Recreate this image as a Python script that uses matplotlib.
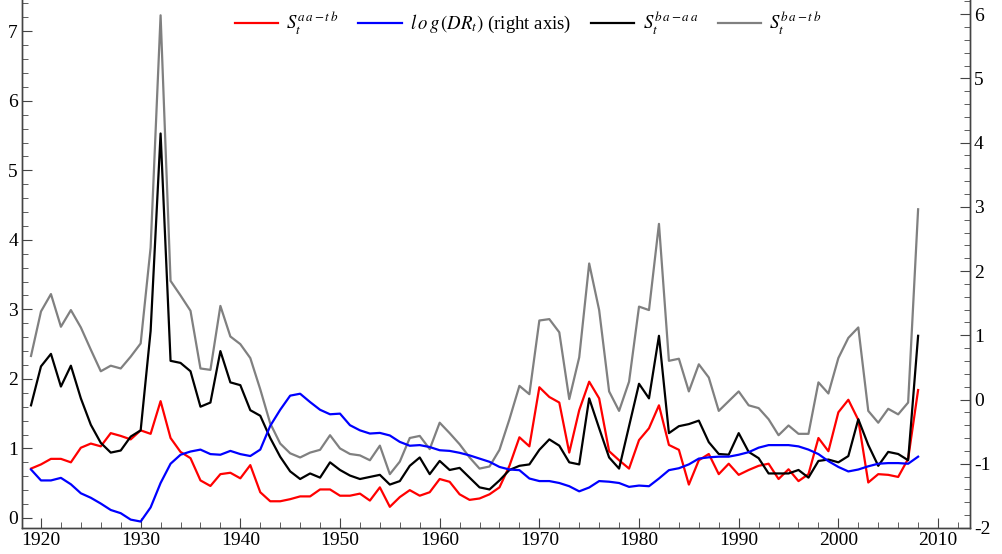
import numpy as np
import matplotlib
matplotlib.use("Agg")
import matplotlib.pyplot as plt
from matplotlib.ticker import MultipleLocator

plt.rcParams['font.family'] = ['Liberation Serif', 'DejaVu Serif']
plt.rcParams['mathtext.fontset'] = 'stix'
plt.rcParams['axes.unicode_minus'] = False

years = np.arange(1919, 2009)

# S_t^{aa-tb}
s_aa_tb = [0.71, 0.77, 0.85, 0.85, 0.80, 1.01, 1.07, 1.03, 1.22, 1.18, 1.13,
           1.26, 1.21, 1.68, 1.15, 0.95, 0.86, 0.54, 0.46, 0.63, 0.65,
           0.57, 0.76, 0.37, 0.24, 0.24, 0.27, 0.31, 0.31, 0.41, 0.41,
           0.32, 0.32, 0.35, 0.25, 0.44, 0.16, 0.30, 0.40, 0.32, 0.37,
           0.56, 0.52, 0.34, 0.26, 0.28, 0.34, 0.44, 0.75, 1.16, 1.03,
           1.88, 1.74, 1.66, 0.94, 1.55, 1.96, 1.72, 0.96, 0.83, 0.71,
           1.12, 1.29, 1.62, 1.05, 0.98, 0.48, 0.83, 0.92, 0.63, 0.78,
           0.62, 0.69, 0.75, 0.78, 0.56, 0.70, 0.53, 0.63, 1.15, 0.96,
           1.52, 1.70, 1.41, 0.51, 0.63, 0.62, 0.59, 0.85, 1.84]

# log(DR_t), right axis
log_dr = [-1.09, -1.26, -1.26, -1.22, -1.32, -1.46, -1.53, -1.62, -1.72, -1.77, -1.87,
          -1.90, -1.68, -1.30, -1.00, -0.86, -0.81, -0.78, -0.85, -0.86, -0.80,
          -0.85, -0.88, -0.78, -0.41, -0.16, 0.06, 0.09, -0.04, -0.16, -0.23,
          -0.22, -0.40, -0.48, -0.53, -0.52, -0.56, -0.66, -0.72, -0.71, -0.74,
          -0.79, -0.80, -0.83, -0.87, -0.92, -0.97, -1.05, -1.09, -1.10, -1.23,
          -1.27, -1.27, -1.30, -1.35, -1.43, -1.37, -1.27, -1.28, -1.30, -1.36,
          -1.34, -1.35, -1.23, -1.10, -1.07, -1.01, -0.92, -0.90, -0.89, -0.89,
          -0.86, -0.82, -0.75, -0.71, -0.71, -0.71, -0.73, -0.78, -0.85, -0.96,
          -1.05, -1.12, -1.09, -1.04, -1.00, -0.99, -0.99, -1.00, -0.89]

# S_t^{ba-aa}
s_ba_aa = [1.62, 2.18, 2.36, 1.89, 2.19, 1.72, 1.34, 1.08, 0.94, 0.97, 1.17,
           1.26, 2.69, 5.53, 2.26, 2.23, 2.11, 1.60, 1.66, 2.40, 1.95,
           1.91, 1.55, 1.47, 1.15, 0.88, 0.67, 0.56, 0.64, 0.58, 0.80,
           0.69, 0.61, 0.56, 0.59, 0.62, 0.48, 0.53, 0.75, 0.87, 0.63,
           0.82, 0.69, 0.72, 0.58, 0.44, 0.41, 0.54, 0.69, 0.75, 0.77,
           0.98, 1.13, 1.04, 0.80, 0.77, 1.72, 1.29, 0.87, 0.71, 1.32,
           1.93, 1.72, 2.62, 1.22, 1.32, 1.35, 1.40, 1.09, 0.92, 0.91,
           1.22, 0.95, 0.86, 0.64, 0.64, 0.64, 0.69, 0.58, 0.82, 0.84,
           0.80, 0.89, 1.42, 1.05, 0.75, 0.95, 0.92, 0.83, 2.62]

# S_t^{ba-tb}
s_ba_tb = [2.33, 2.97, 3.22, 2.75, 2.99, 2.74, 2.42, 2.11, 2.19, 2.15, 2.32,
           2.51, 3.89, 7.23, 3.41, 3.20, 2.98, 2.15, 2.13, 3.05, 2.61,
           2.50, 2.30, 1.85, 1.36, 1.07, 0.93, 0.87, 0.94, 0.98, 1.19,
           1.00, 0.92, 0.90, 0.83, 1.04, 0.63, 0.81, 1.15, 1.18, 0.99,
           1.37, 1.22, 1.06, 0.87, 0.71, 0.74, 0.98, 1.42, 1.90, 1.78,
           2.84, 2.86, 2.67, 1.71, 2.31, 3.66, 2.99, 1.82, 1.54, 1.96,
           3.04, 2.99, 4.23, 2.26, 2.29, 1.82, 2.21, 2.02, 1.54, 1.68,
           1.82, 1.62, 1.58, 1.42, 1.19, 1.33, 1.21, 1.21, 1.95, 1.79,
           2.30, 2.59, 2.74, 1.54, 1.37, 1.57, 1.49, 1.66, 4.44]

fig = plt.figure(figsize=(10.02, 5.54), dpi=100)
ax = fig.add_axes([0.022, 0.047, 0.946, 0.953])
ax2 = ax.twinx()

lw = 1.6
l1, = ax.plot(years, s_aa_tb, color='#ff0000', lw=lw, label=r'$S_t^{a\,a-t\,b}$')
l3, = ax.plot(years, s_ba_aa, color='black', lw=lw, label=r'$S_t^{b\,a-a\,a}$')
l4, = ax.plot(years, s_ba_tb, color='#808080', lw=lw, label=r'$S_t^{b\,a-t\,b}$')
l2, = ax2.plot(years, log_dr, color='#0000ff', lw=lw,
               label=r'$l\,o\,g\,(DR_t)$ (right axis)')

ax.set_xlim(1918.1, 2013.2)
ax.set_ylim(-0.144, 7.45)
ax2.set_ylim(-2.0, 6.22)

ax.xaxis.set_major_locator(MultipleLocator(10))
ax.xaxis.set_minor_locator(MultipleLocator(2))
ax.yaxis.set_major_locator(MultipleLocator(1))
ax.yaxis.set_minor_locator(MultipleLocator(0.2))
ax2.yaxis.set_major_locator(MultipleLocator(1))
ax2.yaxis.set_minor_locator(MultipleLocator(0.2))

for a in (ax, ax2):
    a.spines['top'].set_visible(False)
    for s in a.spines.values():
        s.set_color('#444444')
        s.set_linewidth(1.0)
    a.tick_params(which='both', direction='in', colors='#444444', labelcolor='black',
                  labelsize=14, pad=3)
    a.tick_params(which='major', length=7)
    a.tick_params(which='minor', length=4)
ax.tick_params(axis='x', which='both', top=False)

ax.legend(handles=[l1, l2, l3, l4], loc='upper center', bbox_to_anchor=(0.534, 1.014),
          ncol=4, frameon=False, fontsize=13.5, handlelength=2.3, handletextpad=0.45,
          columnspacing=1.05)

fig.savefig('out.png', dpi=100)
